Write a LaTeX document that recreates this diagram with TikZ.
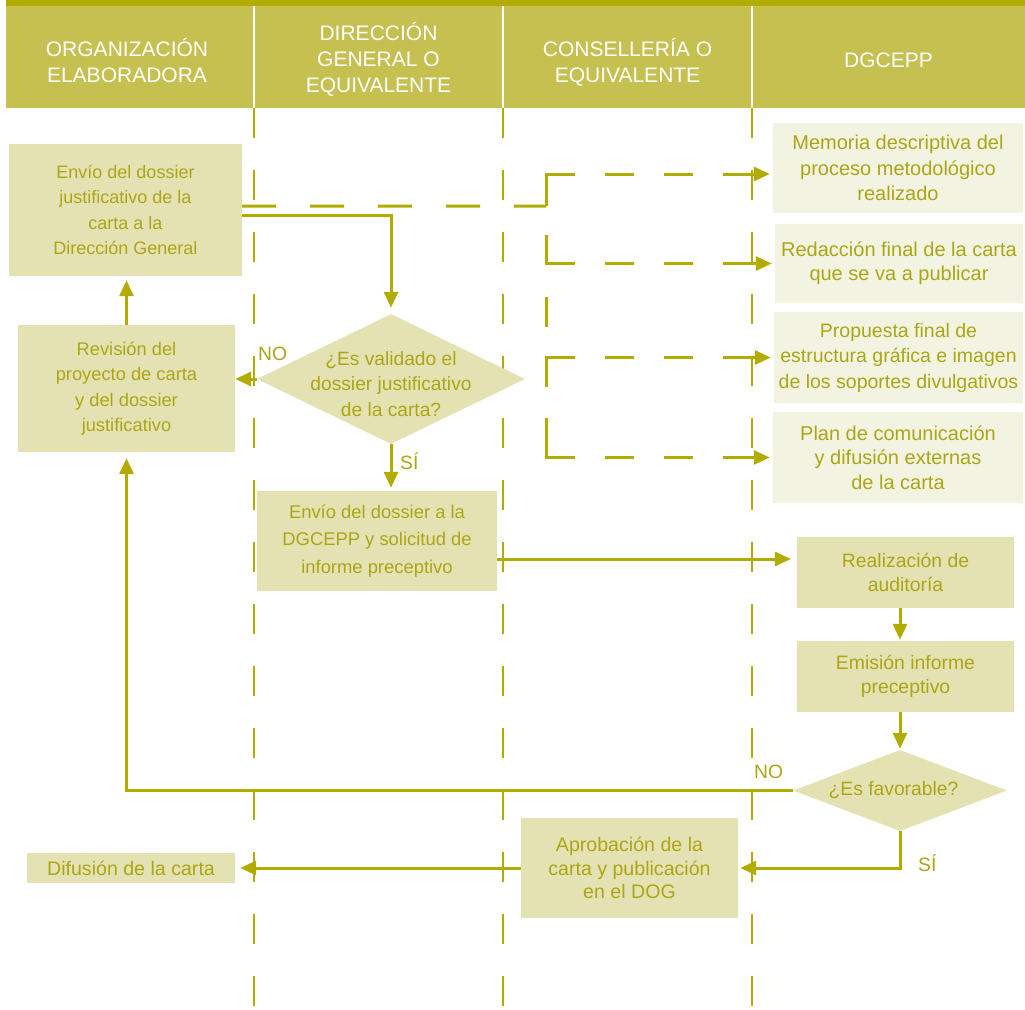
\documentclass[tikz,border=0pt]{standalone}
\usepackage{fontspec}
\setmainfont{Liberation Sans}
\usetikzlibrary{arrows.meta,shapes.geometric}
\definecolor{olive}{RGB}{178,172,0}
\definecolor{headfill}{RGB}{198,192,80}
\definecolor{boxfill}{RGB}{228,226,178}
\definecolor{lightfill}{RGB}{243,243,226}
\definecolor{textol}{RGB}{172,166,22}
\begin{document}
\begin{tikzpicture}[x=1bp,y=-1bp,
  fs/.style 2 args={font=\fontsize{#1bp}{#2bp}\selectfont},
  box/.style={fill=boxfill, draw=none, inner sep=0pt, align=center, text=textol},
  lbox/.style={fill=lightfill, draw=none, inner sep=0pt, align=center, text=textol},
  dia/.style={diamond, fill=boxfill, draw=none, inner sep=0pt},
  dtext/.style={align=center, text=textol, inner sep=0pt},
  lbl/.style={text=textol, inner sep=0pt, anchor=west, fs={19.3}{23}},
  head/.style={text=white, align=center, inner sep=0pt, fs={21}{26}},
  lane/.style={draw=olive, line width=1.1bp, dash pattern=on 30bp off 32bp},
  arr/.style={draw=olive, line width=3bp, -{Triangle[length=16bp,width=14bp]}},
  lbranch/.style={arr, dash pattern=on #1bp off 30bp on 29bp off 30bp on 29bp off 30bp},
  dline/.style={draw=olive, line width=3bp}
]
\useasboundingbox (0,0) rectangle (1025,1010);
% header
\fill[olive] (6,0) rectangle (1025,6);
\fill[headfill] (6,6) rectangle (1025,108);
\foreach \xx in {254,503,752}{
  \draw[white, line width=1.2bp] (\xx,6) -- (\xx,108);
  \draw[lane] (\xx,108) -- (\xx,1010);
}
\node[head] (h1) at (127,60.5) {ORGANIZACIÓN\\ELABORADORA};
\node[head] (h2) at (378.5,59) {DIRECCIÓN\\GENERAL O\\EQUIVALENTE};
\node[head] (h3) at (627.5,62.5) {CONSELLERÍA O\\EQUIVALENTE};
\node[head] (h4) at (888.5,60) {DGCEPP};

% boxes
\node[box, fs={18}{25.6}, minimum width=233bp, minimum height=132bp] (a) at (125.5,210)
  {Envío del dossier\\justificativo de la\\carta a la\\Dirección General};
\node[box, fs={18.3}{25.5}, minimum width=217bp, minimum height=127bp] (b) at (126.5,388.5)
  {Revisión del\\proyecto de carta\\y del dossier\\justificativo};
\node[dia, minimum width=268bp, minimum height=130bp] (d1) at (391,379) {};
\node[dtext, fs={19.2}{25.2}] (d1t) at (391,384) {¿Es validado el\\dossier justificativo\\de la carta?};
\node[box, fs={18.4}{27.5}, minimum width=240bp, minimum height=100bp] (c) at (377,541)
  {Envío del dossier a la\\DGCEPP y solicitud de\\informe preceptivo};

\node[lbox, fs={20}{25.5}, minimum width=250bp, minimum height=90bp] (m) at (898,168)
  {Memoria descriptiva del\\proceso metodológico\\realizado};
\node[lbox, fs={20}{24}, minimum width=248bp, minimum height=79bp] (rd) at (899,263.5)
  {Redacción final de la carta\\que se va a publicar};
\node[lbox, fs={19.5}{25.5}, minimum width=249bp, minimum height=91bp] (pr) at (898.5,357.5)
  {Propuesta final de\\estructura gráfica e imagen\\de los soportes divulgativos};
\node[lbox, fs={20}{24.5}, minimum width=250bp, minimum height=91bp] (pl) at (898,457.5)
  {Plan de comunicación\\y difusión externas\\de la carta};

\node[box, fs={19.4}{24}, minimum width=217bp, minimum height=71bp] (r) at (905.5,572.5)
  {Realización de\\auditoría};
\node[box, fs={19.4}{24}, minimum width=217bp, minimum height=71bp] (e) at (905.5,676.5)
  {Emisión informe\\preceptivo};
\node[dia, minimum width=214bp, minimum height=81bp] (d2) at (900,790.5) {};
\node[dtext, fs={19.3}{24}] (d2t) at (893.5,790) {¿Es favorable?};
\node[box, fs={19.6}{23.5}, minimum width=217bp, minimum height=100bp] (p) at (629.5,868)
  {Aprobación de la\\carta y publicación\\en el DOG};
\node[box, fs={19.6}{24}, minimum width=208bp, minimum height=30bp] (f) at (131,868)
  {Difusión de la carta};

% labels
\node[lbl] (no1) at (258,354) {NO};
\node[lbl] (si1) at (400,461) {SÍ};
\node[lbl] (no2) at (754,772) {NO};
\node[lbl] (si2) at (918,863) {SÍ};

% solid connectors
\draw[arr, shorten >=4bp] (b.north) -- (b.north |- a.south);
\draw[arr, shorten >=6bp] ([yshift=-5bp]a.east) -| (d1.north);
\draw[arr] (d1.west) -- (d1.west -| b.east);
\draw[arr, shorten >=3bp] (d1.south) -- (d1.south |- c.north);
\draw[arr, shorten >=6bp] ([yshift=-18bp]c.east) -- ([yshift=-18bp]c.east -| r.west);
\draw[arr, shorten >=1bp] (r.south -| d2.north) -- (e.north -| d2.north);
\draw[arr, shorten >=1bp] (e.south -| d2.north) -- (d2.north);
\draw[arr, shorten >=6bp] (d2.west) -| (b.south);
\draw[arr, shorten >=2bp] (d2.south) |- (p.east);
\draw[arr, shorten >=5bp] (p.west) -- (f.east);

% dashed connectors
\coordinate (j1) at (546,206);
\coordinate (j2) at (546,235);
\coordinate (j3) at (546,297);
\coordinate (j4) at (546,327);
\coordinate (j5) at (546,387);
\coordinate (j6) at (546,418);
\draw[dline, dash pattern=on 34bp off 34bp] ([yshift=4bp]a.east) -- (j1);
\draw[lbranch=61, shorten >=3bp] (j1) |- ([yshift=-6bp]m.west);
\draw[lbranch=57.5, shorten >=3bp] (j2) |- (rd.west);
\draw[dline] (j3) -- (j4);
\draw[lbranch=58.5, shorten >=3bp] (j5) |- (pr.west);
\draw[lbranch=68.5, shorten >=3bp] (j6) |- (pl.west);
\end{tikzpicture}
\end{document}
